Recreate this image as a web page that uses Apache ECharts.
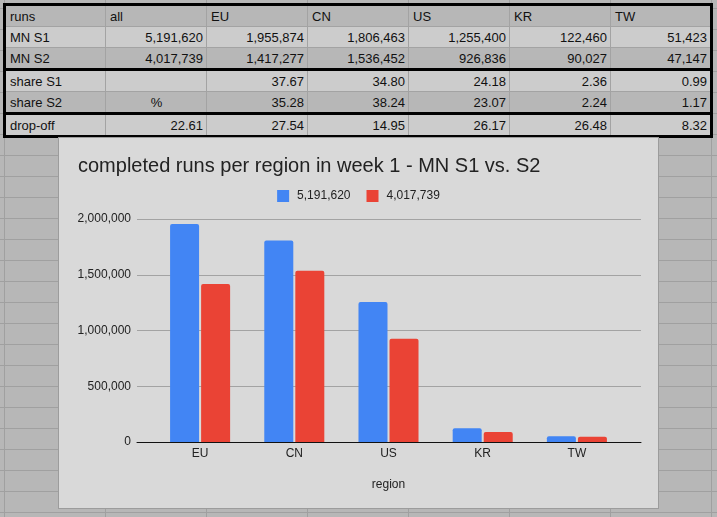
<!DOCTYPE html>
<html>
<head>
<meta charset="utf-8">
<script src="https://cdn.jsdelivr.net/npm/echarts@6/dist/echarts.min.js"></script>
<style>
html,body{margin:0;padding:0;}
body{
  width:717px;height:517px;overflow:hidden;position:relative;
  background-color:#b7b7b7;
  background-image:linear-gradient(to right,#a0a0a0 1px,transparent 1px),linear-gradient(to bottom,#a0a0a0 1px,transparent 1px);
  background-size:101px 21px;
  background-position:4px 8px;
  font-family:"Liberation Sans",Arial,sans-serif;
}
#sheet{position:absolute;left:3px;top:3px;border-collapse:collapse;table-layout:fixed;width:710px;border:3px solid #000;font-size:13px;color:#111;}
#sheet td{height:20px;padding:0 3px 0 4px;border:1px solid #a3a3a3;white-space:nowrap;overflow:hidden;text-align:right;}
#sheet td.lbl{text-align:left;}
#sheet td.mid{text-align:center;}
#sheet tr.dark td{background:#b7b7b7;}
#sheet tr.light td{background:#cccccc;}
#sheet tr.sep td{border-top:3px solid #000;}
#min1{position:absolute;left:58px;top:137px;width:601px;height:372px;box-sizing:border-box;border:1px solid #9c9c9c;background:#d9d9d9;}
</style>
</head>
<body>
<table id="sheet"></table>
<div id="min1"></div>
<script>
var regions=['EU','CN','US','KR','TW'];
var runsS1=[1955874,1806463,1255400,122460,51423];
var runsS2=[1417277,1536452,926836,90027,47147];
var totalS1=5191620;
var totalS2=4017739;
var shareS1=['37.67','34.80','24.18','2.36','0.99'];
var shareS2=['35.28','38.24','23.07','2.24','1.17'];
var dropAll='22.61';
var dropOff=['27.54','14.95','26.17','26.48','8.32'];
var yTicks=[0,500000,1000000,1500000,2000000];

function fmt(n){return n.toLocaleString('en-US');}

// 表格
function row(cls,cells){
  var tr=document.createElement('tr');
  tr.className=cls;
  for(var i=0;i<cells.length;i++){
    var td=document.createElement('td');
    var c=cells[i];
    if(typeof c==='object'){td.className=c.cls;td.textContent=c.t;}
    else td.textContent=c;
    if(i===0) td.className='lbl';
    tr.appendChild(td);
  }
  document.getElementById('sheet').appendChild(tr);
}
var head=[{t:'runs',cls:'lbl'},{t:'all',cls:'lbl'}];
for(var i=0;i<regions.length;i++) head.push({t:regions[i],cls:'lbl'});
row('dark',head);
row('light',['MN S1',fmt(totalS1)].concat(runsS1.map(fmt)));
row('dark',['MN S2',fmt(totalS2)].concat(runsS2.map(fmt)));
row('light sep',['share S1',''].concat(shareS1));
row('dark',['share S2',{t:'%',cls:'mid'}].concat(shareS2));
row('light sep',['drop-off',dropAll].concat(dropOff));

var myChart=echarts.init(document.getElementById('min1'));
var ff='"Liberation Sans",Arial,sans-serif';
var option={
  textStyle:{fontFamily:ff},
  title:{
    text:'completed runs per region in week 1 - MN S1 vs. S2',
    left:14,top:13,
    textStyle:{fontSize:20,fontWeight:'normal',color:'#222',fontFamily:ff}
  },
  legend:{
    top:47,left:'center',
    icon:'rect',itemWidth:12,itemHeight:12,itemGap:16,
    textStyle:{fontSize:12,color:'#222',padding:[0,0,0,3]}
  },
  grid:[
    {left:78,top:81,width:504,height:223},
    {left:94,top:81,width:471,height:223}
  ],
  xAxis:[
    {gridIndex:0,type:'value',min:0,max:1,
      axisLine:{show:true,lineStyle:{color:'#111',width:1}},
      axisTick:{show:false},axisLabel:{show:false},splitLine:{show:false}},
    {gridIndex:1,type:'category',data:regions,
      axisLine:{show:false},axisTick:{show:false},
      axisLabel:{fontSize:12,color:'#222',margin:6},
      name:'region',nameLocation:'middle',nameGap:37,
      nameTextStyle:{fontSize:12,color:'#222'}}
  ],
  yAxis:[
    {gridIndex:0,type:'value',min:yTicks[0],max:yTicks[yTicks.length-1],interval:yTicks[1]-yTicks[0],
      axisLine:{show:false},axisTick:{show:false},
      axisLabel:{fontSize:12,color:'#222',margin:6,formatter:function(v){return fmt(v);}},
      splitLine:{lineStyle:{color:'#a3a3a3'}}},
    {gridIndex:1,type:'value',min:yTicks[0],max:yTicks[yTicks.length-1],show:false,splitLine:{show:false}}
  ],
  series:[
    {name:fmt(totalS1),type:'bar',xAxisIndex:1,yAxisIndex:1,data:runsS1,
      barWidth:29,barGap:'7%',itemStyle:{color:'#4285f4',borderRadius:[2,2,0,0]}},
    {name:fmt(totalS2),type:'bar',xAxisIndex:1,yAxisIndex:1,data:runsS2,
      barWidth:29,barGap:'7%',itemStyle:{color:'#ea4335',borderRadius:[2,2,0,0]}}
  ]
};
myChart.setOption(option);
</script>
</body>
</html>
